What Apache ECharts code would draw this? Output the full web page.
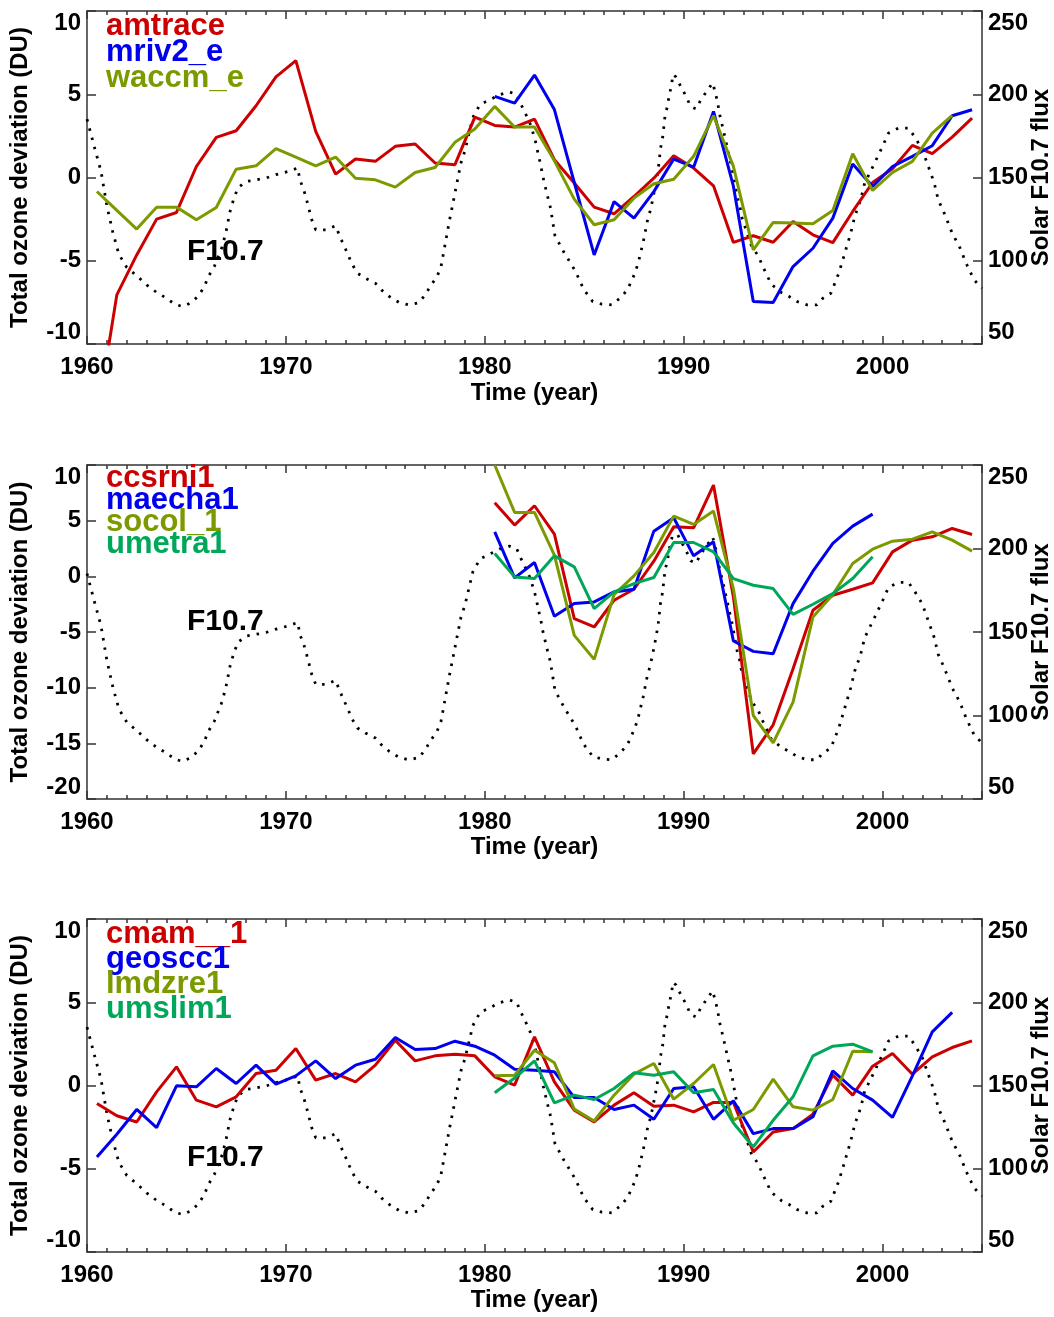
<!DOCTYPE html>
<html><head><meta charset="utf-8">
<script src="https://cdn.jsdelivr.net/npm/echarts@6/dist/echarts.min.js"></script>
<style>html,body{margin:0;padding:0;background:#fff}#c{width:1054px;height:1317px}</style>
</head><body><div id="c"></div>
<script>
// ---- Solar F10.7 flux (right axis) ----
const f107Time = [1960.0,1960.4,1960.7,1961.0,1961.3,1961.6,1962.0,1962.5,1963.0,1963.5,1964.0,1964.4,1964.8,1965.2,1965.6,1965.9,1966.1,1966.4,1966.6,1966.8,1967.0,1967.2,1967.4,1967.6,1968.0,1968.5,1969.0,1969.5,1970.1,1970.6,1970.7,1970.9,1971.1,1971.3,1971.5,1972.0,1972.5,1972.7,1972.9,1973.1,1973.3,1973.6,1974.0,1974.5,1974.8,1975.2,1975.7,1976.2,1976.7,1977.0,1977.3,1977.6,1977.8,1978.0,1978.2,1978.4,1978.6,1978.8,1979.0,1979.2,1979.4,1979.76,1980.27,1980.77,1981.24,1981.61,1981.81,1982.03,1982.28,1982.44,1982.58,1982.69,1982.81,1982.91,1983.03,1983.15,1983.28,1983.37,1983.53,1983.78,1984.03,1984.32,1984.59,1984.79,1984.99,1985.43,1985.88,1986.38,1986.8,1987.17,1987.55,1987.72,1987.84,1987.97,1988.17,1988.31,1988.44,1988.61,1988.72,1988.84,1988.94,1989.06,1989.18,1989.28,1989.4,1989.45,1989.61,1989.85,1990.12,1990.35,1990.62,1990.87,1991.16,1991.46,1991.57,1991.71,1991.79,1991.91,1992.03,1992.16,1992.29,1992.41,1992.49,1992.58,1992.69,1992.83,1992.91,1993.08,1993.25,1993.42,1993.75,1994.0,1994.4,1994.9,1995.3,1995.7,1996.2,1996.7,1997.0,1997.4,1997.8,1998.1,1998.4,1998.6,1998.9,1999.1,1999.6,2000.0,2000.3,2000.8,2001.3,2001.6,2002.0,2002.3,2002.6,2002.8,2003.1,2003.5,2003.9,2004.2,2004.6,2005.0];
const f107Flux = [185,167,154,133,117,104,96,91,85.5,81,77.5,74,72.5,74.6,78.8,84.5,90.5,96.5,102.5,108.5,118,130,138,144,147.6,148.6,149.7,151.7,153.6,155.7,148.6,142.6,134,124.6,118.6,118.6,121,115,109.5,104.5,98.5,92.5,89.5,86.5,82.5,78.5,74.9,73.4,74.9,79.5,85.4,90.5,96.5,109.5,122.6,134.6,146.7,158.7,166,176,186,193.8,196.8,199.8,201.4,199.8,194.2,188.8,182.3,176.3,170.3,163.7,157.7,151,145,139,133,127,115,109.5,104,98.5,93,87.5,82.5,75.5,74,73.5,77.5,82.5,92.5,99,105,111.5,123.6,129.6,136.6,147,154.7,167.7,173.7,186.7,192.7,199.8,205.8,211.8,210.4,204.8,198.8,192.7,191.2,196.8,201.8,206.8,201.8,195.2,188.8,182.8,176.7,169.7,162.7,156.6,151.6,145.6,138.6,132.6,126.6,120.6,114.5,108.5,103,96,86,81,78.5,75.5,73.5,73.5,77.5,80.5,92.5,104.5,116.6,126.6,136.6,146.6,158.7,168.7,176.7,179.7,179.7,174.7,166.7,156.7,146.6,136.6,128.6,116.6,107.6,98.5,88.5,83.5];

// ---- Total ozone deviation (DU), annual values at mid-year ----
// Panel 1
const amtraceStart = 1960.5;
const amtrace = [-14.5,-7.05,-4.65,-2.5,-2.1,0.66,2.41,2.81,4.31,6.04,7.02,2.77,0.2,1.11,0.97,1.87,2.01,0.87,0.77,3.63,3.13,3.03,3.51,1.07,-0.33,-1.78,-2.18,-1.14,-0.04,1.31,0.57,-0.5,-3.9,-3.5,-3.89,-2.64,-3.44,-3.91,-2.04,-0.3,0.52,1.93,1.43,2.43,3.57];
const mriv2eStart = 1980.5;
const mriv2e = [4.87,4.47,6.15,4.08,-0.3,-4.65,-1.45,-2.44,-0.85,1.11,0.62,3.97,-0.52,-7.45,-7.51,-5.35,-4.25,-2.44,0.81,-0.54,0.66,1.27,1.91,3.71,4.07];
const waccmeStart = 1960.5;
const waccme = [-0.84,-1.97,-3.1,-1.78,-1.78,-2.54,-1.8,0.5,0.7,1.73,1.23,0.7,1.23,-0.04,-0.14,-0.58,0.3,0.6,2.11,2.91,4.27,3.03,3.03,1.0,-1.3,-2.84,-2.54,-1.24,-0.38,-0.1,1.27,3.72,0.67,-4.35,-2.7,-2.74,-2.78,-1.98,1.43,-0.78,0.3,0.97,2.67,3.73];
// Panel 2
const ccsrni1Start = 1980.5;
const ccsrni1 = [6.61,4.6,6.34,3.79,-3.8,-4.55,-2.15,-1.16,1.36,4.45,4.36,8.2,-1.85,-15.95,-13.34,-8.3,-3.05,-1.7,-1.16,-0.59,2.2,3.25,3.55,4.3,3.76];
const maecha1Start = 1980.5;
const maecha1 = [4.0,-0.14,1.24,-3.59,-2.45,-2.3,-1.4,-1.16,4.06,5.26,1.84,3.1,-5.81,-6.74,-6.95,-2.45,0.46,2.95,4.51,5.59];
const socol1Start = 1980.5;
const socol1 = [10.0,5.74,5.74,1.9,-5.3,-7.46,-1.64,0.04,2.14,5.41,4.66,5.86,-1.1,-12.5,-14.96,-11.3,-3.65,-1.64,1.15,2.44,3.16,3.34,4.0,3.25,2.26];
const umetra1Start = 1980.5;
const umetra1 = [2.05,-0.05,-0.2,1.84,0.85,-2.9,-1.4,-0.65,-0.11,3.04,3.04,2.2,-0.2,-0.8,-1.1,-3.41,-2.51,-1.55,-0.2,1.75];
// Panel 3
const cmam1Start = 1960.5;
const cmam1 = [-1.08,-1.82,-2.19,-0.38,1.12,-0.88,-1.28,-0.68,0.72,0.92,2.22,0.32,0.72,0.22,1.22,2.72,1.48,1.78,1.88,1.78,0.52,0.02,2.92,0.22,-1.48,-2.19,-1.18,-0.44,-1.24,-1.18,-1.58,-1.02,-1.02,-3.99,-2.79,-2.59,-1.72,0.62,-0.58,1.16,1.92,0.68,1.72,2.28,2.68];
const geoscc1Start = 1960.5;
const geoscc1 = [-4.29,-2.93,-1.44,-2.53,-0.02,-0.08,1.02,0.12,1.22,0.08,0.58,1.48,0.42,1.22,1.58,2.88,2.16,2.22,2.66,2.36,1.82,0.98,0.92,0.82,-0.72,-0.72,-1.44,-1.18,-2.03,-0.18,-0.08,-2.03,-0.92,-2.89,-2.59,-2.59,-1.88,0.88,-0.18,-0.88,-1.92,0.58,3.22,4.39];
const lmdzre1Start = 1980.5;
const lmdzre1 = [0.58,0.62,2.12,1.36,-1.42,-2.13,-0.58,0.68,1.32,-0.82,0.12,1.26,-2.09,-1.44,0.38,-1.28,-1.48,-0.84,2.06,2.02];
const umslim1Start = 1980.5;
const umslim1 = [-0.44,0.45,1.48,-1.04,-0.58,-0.84,-0.18,0.76,0.62,0.82,-0.44,-0.24,-2.25,-3.69,-2.09,-0.68,1.78,2.36,2.48,2.02];

const xTickLabels = [1960,1970,1980,1990,2000];

// ---- styling ----
const RED='#cc0000', BLUE='#0000ee', OLIVE='#7b9a00', GREEN='#00a65a';
const FONT='"Liberation Sans", Arial, Helvetica, sans-serif';
const AX='#333';

const panels = [
  {top:11, height:333, yMin:-10, yMax:10, legendY:[26.5,52.5,78], f107Y:251.3, timeY:393,
   series:[['amtrace',amtrace,amtraceStart,RED],['mriv2_e',mriv2e,mriv2eStart,BLUE],['waccm_e',waccme,waccmeStart,OLIVE]]},
  {top:465, height:334, yMin:-20, yMax:10, legendY:[478,500.5,522.5,544.5], f107Y:621.3, timeY:847,
   series:[['ccsrni1',ccsrni1,ccsrni1Start,RED],['maecha1',maecha1,maecha1Start,BLUE],['socol_1',socol1,socol1Start,OLIVE],['umetra1',umetra1,umetra1Start,GREEN]]},
  {top:919, height:333, yMin:-10, yMax:10, legendY:[934.5,959.5,984.5,1009.5], f107Y:1157.6, timeY:1300,
   series:[['cmam__1',cmam1,cmam1Start,RED],['geoscc1',geoscc1,geoscc1Start,BLUE],['lmdzre1',lmdzre1,lmdzre1Start,OLIVE],['umslim1',umslim1,umslim1Start,GREEN]]}
];

const LEFT=87, WIDTH=895;
const grids=[], xAxes=[], yAxes=[], series=[], graphics=[];
const lineAx = {color:AX, width:1.5};

function txt(x,y,text,size,color,rot){
  const el = {type:'text', x:x, y:y, silent:true, z:100,
    style:{text:text, fill:color, font:'bold '+size+'px '+FONT,
      align: rot?'center':'left', textAlign: rot?'center':'left',
      verticalAlign:'middle', textVerticalAlign:'middle'}};
  if (rot) el.rotation = Math.PI/2;
  return el;
}

panels.forEach((p,g)=>{
  grids.push({left:LEFT, top:p.top, width:WIDTH, height:p.height, containLabel:false});
  const base = {gridIndex:g, type:'value', min:1960, max:2005, splitLine:{show:false}};
  xAxes.push(
    Object.assign({}, base, {position:'bottom', interval:10,
      axisLine:{show:true,onZero:false,lineStyle:lineAx},
      axisTick:{show:true,inside:true,length:8,lineStyle:lineAx},
      axisLabel:{show:true, margin:11, color:'#000', fontSize:24, fontWeight:'bold', fontFamily:FONT,
        formatter:v=> xTickLabels.indexOf(v)>=0 ? String(v) : ''}}),
    Object.assign({}, base, {position:'bottom', interval:1,
      axisLine:{show:false,onZero:false},
      axisTick:{show:true,inside:true,length:4,lineStyle:lineAx},
      axisLabel:{show:false}}),
    Object.assign({}, base, {position:'top', interval:10,
      axisLine:{show:true,onZero:false,lineStyle:lineAx},
      axisTick:{show:true,inside:true,length:8,lineStyle:lineAx},
      axisLabel:{show:false}}),
    Object.assign({}, base, {position:'top', interval:1,
      axisLine:{show:false,onZero:false},
      axisTick:{show:true,inside:true,length:4,lineStyle:lineAx},
      axisLabel:{show:false}})
  );
  const lab = {margin:6, color:'#000', fontSize:24, fontWeight:'bold', fontFamily:FONT,
               verticalAlignMinLabel:'bottom', verticalAlignMaxLabel:'top'};
  yAxes.push(
    {gridIndex:g, type:'value', position:'left', min:p.yMin, max:p.yMax, interval:5,
     axisLine:{show:true,onZero:false,lineStyle:lineAx},
     axisTick:{show:true,inside:true,length:9,lineStyle:lineAx},
     axisLabel:lab, splitLine:{show:false}},
    {gridIndex:g, type:'value', position:'right', min:50, max:250, interval:50,
     axisLine:{show:true,onZero:false,lineStyle:lineAx},
     axisTick:{show:true,inside:true,length:9,lineStyle:lineAx},
     axisLabel:Object.assign({}, lab, {margin:6}), splitLine:{show:false}}
  );
  series.push({type:'line', name:'F10.7', xAxisIndex:4*g, yAxisIndex:2*g+1,
    data:f107Time.map((t,i)=>[t,f107Flux[i]]), symbol:'none', showSymbol:false, silent:true, z:1,
    lineStyle:{color:'#000', width:2.8, type:[2.5,7], cap:'butt'}});
  p.series.forEach(([name,vals,start,color],k)=>{
    series.push({type:'line', name:name, xAxisIndex:4*g, yAxisIndex:2*g, clip:true,
      data:vals.map((v,i)=>[start+i, v]), symbol:'none', showSymbol:false, silent:true, z:2+k,
      lineStyle:{color:color, width:3}});
    graphics.push(txt(106, p.legendY[k], name, 31, color, false));
  });
  graphics.push(txt(187, p.f107Y, 'F10.7', 30, '#000', false));
  const cy = p.top + p.height/2;
  graphics.push(txt(20.5, cy, 'Total ozone deviation (DU)', 24, '#000', true));
  graphics.push(txt(1041, cy, 'Solar F10.7 flux', 24, '#000', true));
  const tx = {type:'text', x:LEFT+WIDTH/2, y:p.timeY, silent:true,
    style:{text:'Time (year)', fill:'#000', font:'bold 24px '+FONT, align:'center', textAlign:'center', verticalAlign:'middle', textVerticalAlign:'middle'}};
  graphics.push(tx);
});

const chart = echarts.init(document.getElementById('c'), null, {renderer:'canvas'});
chart.setOption({animation:false, backgroundColor:'#fff', grid:grids, xAxis:xAxes, yAxis:yAxes, series:series, graphic:graphics});
</script></body></html>
